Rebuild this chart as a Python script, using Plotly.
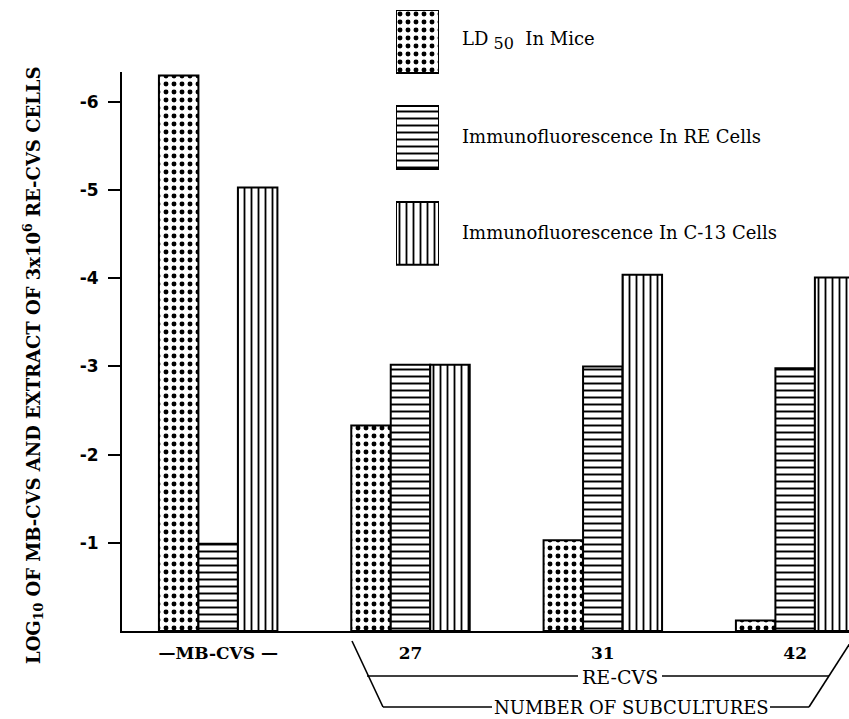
import plotly.graph_objects as go

# ---------------- data ----------------
categories = ["MB-CVS", "27", "31", "42"]
tick_labels = ["—MB-CVS —", "27", "31", "42"]
series_names = ["LD<sub><span style='font-size:16px'> 50</span></sub>  In Mice",
                "Immunofluorescence In RE Cells",
                "Immunofluorescence In C-13 Cells"]
ld50_mice = [-6.3, -2.33, -1.03, -0.12]
if_re_cells = [-0.99, -3.02, -3.0, -2.98]
if_c13_cells = [-5.03, -3.02, -4.04, -4.01]
y_tick_values = [-1, -2, -3, -4, -5, -6]
y_tick_labels = ["-1", "-2", "-3", "-4", "-5", "-6"]
y_title = "LOG<sub>10</sub> OF MB-CVS AND EXTRACT OF 3x10<sup>6</sup> RE-CVS CELLS"
group_label = "RE-CVS"
group_label2 = "NUMBER OF SUBCULTURES"

# ---------------- layout geometry (pixels) ----------------
W, H = 849, 719
ML, MR, MT, MB = 122, 0, 10, 88
PW, PH = W - ML - MR, H - MT - MB
PLOT_TOP = 72  # top of the main axes


def px(x):
    return (x - ML) / PW


def py(y):
    return (H - MB - y) / PH


patterns = [
    dict(shape=".", size=8, solidity=0.3, fgcolor="black", bgcolor="white", fillmode="replace"),
    dict(shape="-", size=7, solidity=0.28, fgcolor="black", bgcolor="white", fillmode="replace"),
    dict(shape="|", size=7, solidity=0.26, fgcolor="black", bgcolor="white", fillmode="replace"),
]
series_values = [ld50_mice, if_re_cells, if_c13_cells]

fig = go.Figure()
for name, vals, pat in zip(series_names, series_values, patterns):
    fig.add_trace(go.Bar(
        x=categories, y=vals, name=name,
        marker=dict(color="white", pattern=pat, line=dict(color="black", width=2)),
        showlegend=False, xaxis="x", yaxis="y",
    ))

# legend swatches (drawn as bars in an auxiliary, hidden axis pair)
for i, pat in enumerate(patterns):
    fig.add_trace(go.Bar(
        x=[0], y=[0.656], base=[i], width=[1], offset=[-0.5],
        marker=dict(color="white", pattern=pat, line=dict(color="black", width=2)),
        showlegend=False, xaxis="x2", yaxis="y2", hoverinfo="skip",
    ))

serif = "DejaVu Serif"
annotations = []
# legend texts
for i, name in enumerate(series_names):
    yc = 10 + 96 * i + 30
    annotations.append(dict(
        x=px(460), y=py(yc), xref="paper", yref="paper", text=name,
        showarrow=False, xanchor="left", yanchor="middle",
        font=dict(family=serif, size=18, color="black"),
    ))
# y axis title
annotations.append(dict(
    x=px(33), y=py(365), xref="paper", yref="paper", text=y_title,
    textangle=-90, showarrow=False, xanchor="center", yanchor="middle",
    font=dict(family=serif, size=18, color="black", weight="bold"),
))
# bracket labels
annotations.append(dict(
    x=px(620), y=py(677), xref="paper", yref="paper", text=group_label,
    showarrow=False, xanchor="center", yanchor="middle",
    font=dict(family=serif, size=19, color="black"),
))
annotations.append(dict(
    x=px(631), y=py(707), xref="paper", yref="paper", text=group_label2,
    showarrow=False, xanchor="center", yanchor="middle",
    font=dict(family=serif, size=18, color="black"),
))

line_style = dict(color="black", width=1.6)
segments = [
    ((352, 641), (383, 707)),
    ((367, 676), (578, 676)),
    ((662, 676), (829, 676)),
    ((852, 640), (809, 707)),
    ((383, 707), (492, 707)),
    ((770, 707), (809, 707)),
]
shapes = [dict(type="line", xref="paper", yref="paper",
               x0=px(a[0]), y0=py(a[1]), x1=px(b[0]), y1=py(b[1]), line=line_style)
          for a, b in segments]

fig.update_layout(
    width=W, height=H,
    margin=dict(l=ML, r=MR, t=MT, b=MB),
    paper_bgcolor="white", plot_bgcolor="white",
    barmode="group", bargap=0.384, bargroupgap=0,
    showlegend=False,
    annotations=annotations, shapes=shapes,
    xaxis=dict(
        domain=[0, 1], range=[-0.5, 3.28], type="category",
        tickmode="array", tickvals=categories, ticktext=tick_labels,
        showline=True, linecolor="black", linewidth=2, ticks="",
        showgrid=False, zeroline=False, ticklabelstandoff=6,
        tickfont=dict(family=serif, size=17, color="black", weight="bold"),
        anchor="y", fixedrange=True,
    ),
    yaxis=dict(
        domain=[0, py(PLOT_TOP)], range=[0, -6.34],
        tickmode="array", tickvals=y_tick_values, ticktext=y_tick_labels,
        showline=True, linecolor="black", linewidth=2,
        ticks="outside", ticklen=12, tickwidth=2, tickcolor="black",
        ticklabelstandoff=6,
        showgrid=False, zeroline=False,
        tickfont=dict(family="DejaVu Sans", size=17, color="black", weight="bold"),
        anchor="x", fixedrange=True,
    ),
    xaxis2=dict(domain=[px(396), px(439)], range=[-0.5, 0.5], visible=False,
                anchor="y2", fixedrange=True),
    yaxis2=dict(domain=[py(270), 1], range=[2.71, 0], visible=False,
                anchor="x2", fixedrange=True),
)

fig.write_html("out.html", config={"displayModeBar": False},
               post_script="document.body.style.margin='0px';")
